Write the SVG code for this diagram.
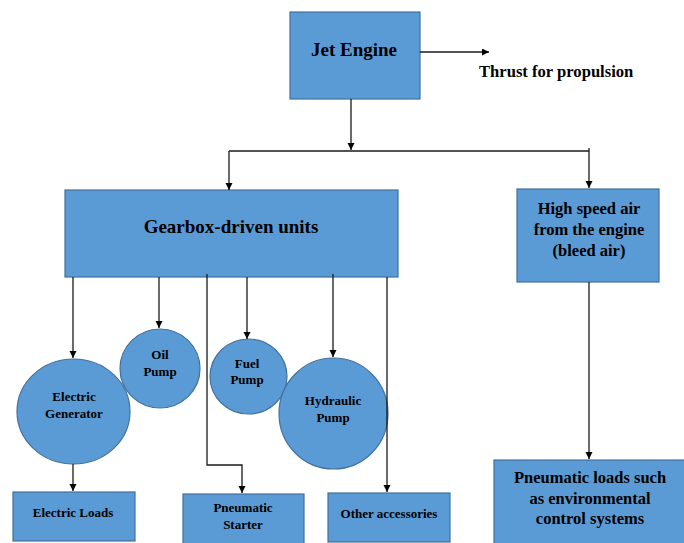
<svg xmlns="http://www.w3.org/2000/svg" width="684" height="543" viewBox="0 0 684 543">
<defs>
<style>
.box{fill:#5B9BD5;stroke:#41719C;stroke-width:1.2}
.t{font-weight:bold;fill:#000;text-anchor:middle}
.s13{font-size:13px}
.s16{font-size:16.5px}
.s19{font-size:19px}
.c{fill:none;stroke:#1a1a1a;stroke-width:1.3}
</style>
<marker id="ah" markerUnits="userSpaceOnUse" markerWidth="8" markerHeight="8" refX="7" refY="3.5" orient="auto">
<path d="M0,0 L7,3.5 L0,7 z" fill="#000"/>
</marker>
</defs>
<rect width="684" height="543" fill="#fff"/>
<g font-family="Liberation Serif, serif">
<g id="jet-engine">
<rect class="box" x="290" y="12" width="130" height="87"/>
<text class="t s19" x="354" y="56">Jet Engine</text>
</g>
<g id="thrust">
<text class="t" style="font-size:16.6px;text-anchor:start" x="479" y="77">Thrust for propulsion</text>
</g>
<g id="gearbox">
<rect class="box" x="65" y="190" width="333" height="87"/>
<text class="t s19" x="231" y="233">Gearbox-driven units</text>
</g>
<g id="bleed-air">
<rect class="box" x="517" y="189" width="142" height="93"/>
<text class="t s16" x="589" y="214">High speed air</text>
<text class="t s16" x="589" y="235">from the engine</text>
<text class="t s16" x="589" y="256">(bleed air)</text>
</g>
<g id="electric-generator">
<ellipse class="box" cx="73.5" cy="411.5" rx="56.5" ry="52.5"/>
<text class="t s13" x="74" y="400.5">Electric</text>
<text class="t s13" x="74" y="417.5">Generator</text>
</g>
<g id="oil-pump">
<ellipse class="box" cx="160" cy="368.5" rx="40" ry="39.5"/>
<text class="t s13" x="160" y="358.5">Oil</text>
<text class="t s13" x="160" y="375.5">Pump</text>
</g>
<g id="fuel-pump">
<ellipse class="box" cx="248.5" cy="376.5" rx="38.5" ry="37.5"/>
<text class="t s13" x="247" y="367.5">Fuel</text>
<text class="t s13" x="247" y="383.5">Pump</text>
</g>
<g id="hydraulic-pump">
<ellipse class="box" cx="333.5" cy="413.5" rx="54.5" ry="55.5"/>
<text class="t s13" x="333" y="404.5">Hydraulic</text>
<text class="t s13" x="333" y="421.5">Pump</text>
</g>
<g id="electric-loads">
<rect class="box" x="13" y="492" width="122" height="49"/>
<text class="t s13" x="73" y="516.5">Electric Loads</text>
</g>
<g id="pneumatic-starter">
<rect class="box" x="183" y="494" width="121" height="52"/>
<text class="t s13" x="243" y="511.5">Pneumatic</text>
<text class="t s13" x="243" y="528.5">Starter</text>
</g>
<g id="other-accessories">
<rect class="box" x="328" y="493" width="122" height="49"/>
<text class="t s13" x="389" y="517.5">Other accessories</text>
</g>
<g id="pneumatic-loads">
<rect class="box" x="494" y="460" width="194" height="90"/>
<text class="t s16" x="590" y="482.5">Pneumatic loads such</text>
<text class="t s16" x="590" y="503.5">as environmental</text>
<text class="t s16" x="590" y="523.5">control systems</text>
</g>
</g>
<g id="connectors">
<path class="c" d="M420,52 H489" marker-end="url(#ah)"/>
<path class="c" d="M351,99 V150" marker-end="url(#ah)"/>
<path class="c" d="M229,151 H589"/>
<path class="c" d="M229,151 V190" marker-end="url(#ah)"/>
<path class="c" d="M589,148 V188" marker-end="url(#ah)"/>
<path class="c" d="M73,277 V358" marker-end="url(#ah)"/>
<path class="c" d="M159,277 V328" marker-end="url(#ah)"/>
<path class="c" d="M207,274 V465 H242 V493" marker-end="url(#ah)"/>
<path class="c" d="M247,277 V339" marker-end="url(#ah)"/>
<path class="c" d="M333,274 V357" marker-end="url(#ah)"/>
<path class="c" d="M387,277 V492" marker-end="url(#ah)"/>
<path class="c" d="M73,464 V491" marker-end="url(#ah)"/>
<path class="c" d="M589,282 V459" marker-end="url(#ah)"/>
</g>
</svg>
